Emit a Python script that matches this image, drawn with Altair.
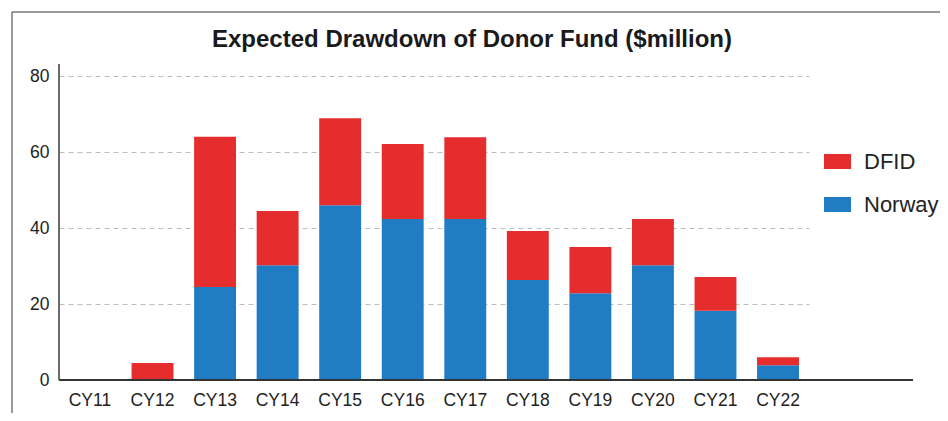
import altair as alt
import pandas as pd

years = ["CY11", "CY12", "CY13", "CY14", "CY15", "CY16", "CY17", "CY18", "CY19", "CY20", "CY21", "CY22"]
norway = [0, 0, 24.5, 30.2, 46.0, 42.4, 42.4, 26.3, 22.8, 30.2, 18.2, 3.9]
dfid = [0, 4.5, 39.5, 14.3, 22.9, 19.7, 21.5, 12.9, 12.2, 12.2, 8.9, 2.1]
series = ["DFID", "Norway"]
colors = ["#e52d2e", "#217dc3"]
title_text = "Expected Drawdown of Donor Fund ($million)"

FONT = "Liberation Sans"
W, H = 750, 304

rows = []
for i, y in enumerate(years):
    rows.append({"year": y, "series": "Norway", "value": norway[i], "rank": 0})
    rows.append({"year": y, "series": "DFID", "value": dfid[i], "rank": 1})
df = pd.DataFrame(rows)
one = pd.DataFrame({"a": [0]})

bars = alt.Chart(df).mark_bar().encode(
    x=alt.X("year:N", sort=years, title=None,
            scale=alt.Scale(paddingInner=0.33, paddingOuter=0.16),
            axis=alt.Axis(labelAngle=0, domain=False, ticks=False, tickSize=0,
                          labelFontSize=17.5, labelFont=FONT, labelColor="#222",
                          labelPadding=11)),
    y=alt.Y("value:Q", stack="zero", title=None,
            scale=alt.Scale(domain=[0, 80], nice=False),
            axis=alt.Axis(values=[0, 20, 40, 60, 80], domain=False, ticks=False, tickSize=0,
                          labelFontSize=17.5, labelFont=FONT, labelColor="#222",
                          labelPadding=10, grid=True, gridColor="#bdbdbd",
                          gridDash=[5, 4], gridWidth=1.2)),
    color=alt.Color("series:N", scale=alt.Scale(domain=series, range=colors),
                    legend=alt.Legend(orient="none", legendX=765, legendY=72, title=None,
                                      symbolType="M-1,-0.556H1V0.556H-1Z", symbolSize=729,
                                      symbolStrokeWidth=0, labelFontSize=22, labelFont=FONT,
                                      labelColor="#222", labelOffset=13, rowPadding=18,
                                      padding=0)),
    order=alt.Order("rank:Q"),
)

xaxis_line = alt.Chart(one).mark_rule(color="#333", strokeWidth=2).encode(
    x=alt.value(0), x2=alt.value(854), y=alt.value(H))
yaxis_line = alt.Chart(one).mark_rule(color="#444", strokeWidth=1.6).encode(
    x=alt.value(0), y=alt.value(-12), y2=alt.value(H))
border_top = alt.Chart(one).mark_rule(color="#777", strokeWidth=1.5).encode(
    x=alt.value(-47), x2=alt.value(900), y=alt.value(-64))
border_left = alt.Chart(one).mark_rule(color="#777", strokeWidth=1.5).encode(
    x=alt.value(-47), y=alt.value(-64), y2=alt.value(H + 60))
title = alt.Chart(one).mark_text(fontSize=24, fontWeight="bold", font=FONT, color="#1a1a1a",
                                 align="center", baseline="alphabetic").encode(
    x=alt.value(413), y=alt.value(-29), text=alt.value(title_text))

chart = alt.layer(bars, xaxis_line, yaxis_line, border_top, border_left, title).properties(
    width=W, height=H,
    autosize=alt.AutoSizeParams(type="none"),
    padding={"left": 51, "top": 68, "right": 131, "bottom": 33},
).configure_view(stroke=None)

chart.save("out.html", embed_options={"renderer": "svg", "actions": False})
